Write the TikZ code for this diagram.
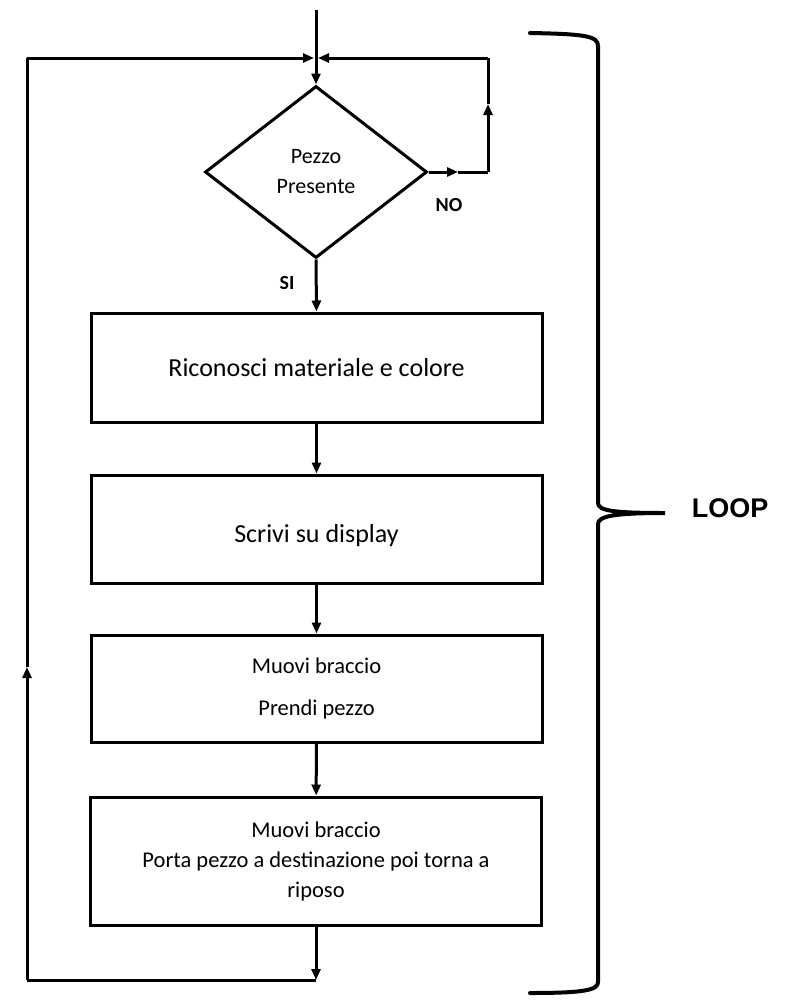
\documentclass[tikz,border=0pt]{standalone}
\usepackage{fontspec}
\setmainfont{Carlito}
\newfontfamily\arialfont{Liberation Sans}
\usetikzlibrary{shapes.geometric,arrows.meta}
\begin{document}
\begin{tikzpicture}[x=1pt,y=-1pt,
  line/.style={line width=3pt},
  arr/.style={line width=3pt,-{Triangle[length=11pt,width=9pt]}},
  box/.style={draw,line width=3pt,minimum width=451pt,inner sep=0pt,align=center},
  bigtxt/.style={font=\fontsize{26}{30}\selectfont},
  smalltxt/.style={font=\fontsize{22.5}{30}\selectfont},
  lbl/.style={font=\fontsize{20}{24}\selectfont\bfseries},
  brace/.style={line width=4pt,line cap=round},
  loop/.style={font=\arialfont\fontsize{27}{30}\selectfont\bfseries}]
\useasboundingbox (0,0) rectangle (799,1007);

\node[diamond,draw,line width=3pt,minimum width=222pt,minimum height=172pt,inner sep=0pt,align=center,font=\fontsize{22}{30}\selectfont] (d) at (316,172) {Pezzo\\Presente};
\node[box,minimum height=109pt,bigtxt] (b1) at (316.5,367.5) {Riconosci materiale e colore};
\node[box,minimum height=108pt,bigtxt] (b2) at (316.5,529) {\raisebox{-7pt}[\height][\depth]{Scrivi su display}};
\node[box,minimum height=107pt,smalltxt] (b3) at (316.5,688.5) {Muovi braccio\\[12pt]Prendi pezzo};
\node[box,minimum height=128pt,smalltxt] (b4) at (316,861) {Muovi braccio\\Porta pezzo a destinazione poi torna a\\riposo};

\node[lbl] (no) at (449,205) {NO};
\node[lbl] (si) at (287,283) {SI};
\node[loop] (lp) at (730,508) {LOOP};

\coordinate (top) at (316,10);
\coordinate (jl) at (314,58);
\coordinate (jr) at (318,58);
\coordinate (tl) at (27,58);
\coordinate (lm) at (27,667);
\coordinate (bl) at (27,980);
\coordinate (bj) at (316,980);
\coordinate (nm) at (458,172);
\coordinate (mr) at (488,172);
\coordinate (um) at (488,104);
\coordinate (tr) at (488,58);

\draw[arr] (top) -- (d.north);
\draw[arr] (d.south) -- (b1.north);
\draw[arr] (b1) -- (b2);
\draw[arr] (b2) -- (b3);
\draw[arr] (b3) -- (b4);
\draw[arr] (b4.south) -- (bj);
\draw[line] (bj) -- (bl);
\draw[arr] (bl) -- (lm);
\draw[line] (lm) -- (tl);
\draw[arr] (tl) -- (jl);
\draw[arr] (d.east) -- (nm);
\draw[line] (nm) -- (mr);
\draw[arr] (mr) -- (um);
\draw[line] (um) -- (tr);
\draw[arr] (tr) -- (jr);

\draw[brace] (530,33) .. controls (585,34) and (598,36) .. (598,46) -- (598,503)
  .. controls (598,511) and (615,513) .. (665,513)
  .. controls (615,513) and (598,516) .. (598,524) -- (598,982)
  .. controls (598,990) and (585,993) .. (530,993);
\end{tikzpicture}
\end{document}
